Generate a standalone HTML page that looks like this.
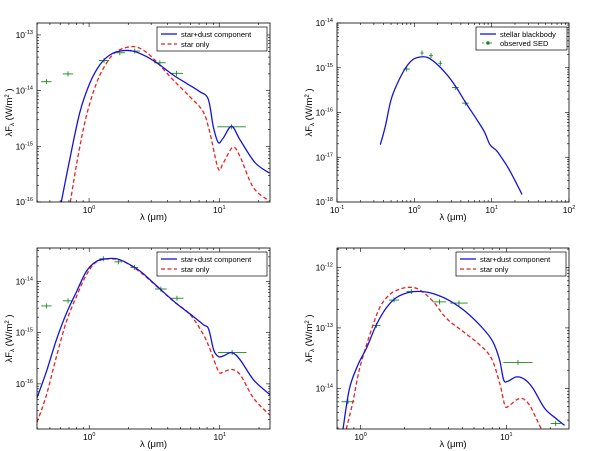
<!DOCTYPE html>
<html><head><meta charset="utf-8"><style>
html,body{margin:0;padding:0;background:#fff;width:600px;height:451px;overflow:hidden}
svg{font-family:"Liberation Sans","DejaVu Sans",sans-serif}
</style></head><body>
<svg id="fig" width="600" height="451" viewBox="0 0 600 451" xmlns="http://www.w3.org/2000/svg"></svg>
<script>
// ---- Panel 1 (top-left) data: log10 wavelength (um), log10 flux (W/m2) ----
const p1BlueLam=[-0.213,-0.149,-0.072,0.005,0.082,0.159,0.236,0.338,0.441,0.544,0.646,0.749,0.851,0.915,0.954,0.992,1.031,1.095,1.159,1.274,1.385];
const p1BlueF=[-16.0,-15.24,-14.40,-13.87,-13.54,-13.36,-13.29,-13.29,-13.39,-13.54,-13.72,-13.87,-14.02,-14.15,-14.64,-14.93,-14.85,-14.64,-14.88,-15.29,-15.48];
const p1RedLam=[-0.144,-0.085,-0.021,0.056,0.133,0.21,0.326,0.415,0.518,0.646,0.774,0.877,0.928,0.992,1.031,1.103,1.159,1.262,1.385];
const p1RedF=[-16.0,-15.18,-14.46,-13.87,-13.51,-13.30,-13.21,-13.27,-13.48,-13.81,-14.11,-14.38,-14.76,-15.40,-15.30,-15.02,-15.18,-15.74,-15.98];
const p1ObsLam=[-0.328,-0.162,0.115,0.236,0.351,0.544,0.672,1.095];
const p1ObsF=[-13.84,-13.70,-13.46,-13.32,-13.29,-13.50,-13.69,-14.65];
const p1ObsXerr=[0.04,0.04,0.04,0.04,0.04,0.045,0.05,0.11];
// ---- Panel 2 (top-right) ----
const p2BlueLam=[-0.44,-0.375,-0.302,-0.216,-0.116,-0.022,0.073,0.172,0.28,0.41,0.539,0.668,0.797,0.905,0.978,1.056,1.121,1.228,1.392];
const p2BlueF=[-16.72,-16.31,-15.72,-15.34,-15.01,-14.82,-14.76,-14.77,-14.90,-15.13,-15.43,-15.79,-16.13,-16.43,-16.72,-16.84,-16.99,-17.28,-17.83];
const p2ObsLam=[-0.099,0.099,0.216,0.336,0.53,0.66];
const p2ObsF=[-15.03,-14.67,-14.73,-14.90,-15.44,-15.79];
const p2ObsXerr=[0.043,0.02,0.025,0.025,0.043,0.043];
// ---- Panel 3 (bottom-left) ----
const p3BlueLam=[-0.4,-0.328,-0.251,-0.174,-0.097,-0.021,0.056,0.133,0.21,0.287,0.39,0.492,0.595,0.697,0.8,0.877,0.915,0.954,0.992,1.031,1.095,1.159,1.262,1.385];
const p3BlueF=[-16.27,-15.76,-15.14,-14.62,-14.20,-13.80,-13.61,-13.56,-13.56,-13.64,-13.80,-14.03,-14.27,-14.49,-14.69,-14.85,-14.93,-15.34,-15.47,-15.45,-15.39,-15.54,-15.93,-16.21];
const p3RedLam=[-0.4,-0.328,-0.251,-0.174,-0.097,-0.021,0.056,0.159,0.262,0.39,0.518,0.646,0.774,0.877,0.928,0.992,1.031,1.095,1.159,1.262,1.385];
const p3RedF=[-16.75,-16.22,-15.47,-14.78,-14.29,-13.87,-13.62,-13.56,-13.61,-13.82,-14.10,-14.39,-14.65,-15.05,-15.34,-15.76,-15.76,-15.72,-15.83,-16.29,-16.61];
const p3ObsLam=[-0.328,-0.162,0.108,0.223,0.346,0.549,0.672,1.095];
const p3ObsF=[-14.48,-14.38,-13.56,-13.62,-13.73,-14.15,-14.33,-15.39];
const p3ObsXerr=[0.04,0.04,0.03,0.03,0.03,0.045,0.05,0.11];
// ---- Panel 4 (bottom-right) ----
const p4BlueLam=[-0.121,-0.076,-0.018,0.039,0.108,0.176,0.245,0.336,0.428,0.519,0.611,0.725,0.84,0.908,0.954,0.982,1.011,1.069,1.126,1.183,1.263,1.343,1.4];
const p4BlueF=[-14.67,-14.0,-13.61,-13.34,-12.95,-12.67,-12.50,-12.41,-12.40,-12.45,-12.55,-12.74,-13.01,-13.23,-13.53,-13.86,-13.88,-13.81,-13.85,-14.0,-14.33,-14.50,-14.61];
const p4RedLam=[-0.098,-0.053,-0.007,0.062,0.13,0.199,0.268,0.336,0.405,0.497,0.588,0.703,0.817,0.897,0.954,0.989,1.011,1.069,1.114,1.16,1.206,1.24];
const p4RedF=[-14.67,-14.22,-13.67,-13.12,-12.67,-12.45,-12.36,-12.33,-12.37,-12.56,-12.84,-13.06,-13.28,-13.50,-13.91,-14.27,-14.30,-14.19,-14.17,-14.28,-14.50,-14.67];
const p4ObsLam=[-0.087,0.108,0.229,0.348,0.542,0.675,1.08,1.339];
const p4ObsF=[-14.22,-12.96,-12.54,-12.40,-12.57,-12.59,-13.57,-14.58];
const p4ObsXerr=[0.045,0.027,0.034,0.034,0.045,0.06,0.1,0.035];

const NS='http://www.w3.org/2000/svg';
const svg=document.getElementById('fig');
function el(tag,attrs,parent){const e=document.createElementNS(NS,tag);for(const k in attrs)e.setAttribute(k,attrs[k]);(parent||svg).appendChild(e);return e;}

const panels=[
 {id:'p1',box:[37,270,23,202],xl:[-0.4,1.39],yl:[-16,-12.786],blue:[p1BlueLam,p1BlueF],red:[p1RedLam,p1RedF],obs:[p1ObsLam,p1ObsF,p1ObsXerr],legend:'sd',xt:[0,1]},
 {id:'p2',box:[337,569,23,202],xl:[-1,2],yl:[-18,-14],blue:[p2BlueLam,p2BlueF],red:null,obs:[p2ObsLam,p2ObsF,p2ObsXerr],legend:'bb',xt:[-1,0,1,2]},
 {id:'p3',box:[37,270,248,429],xl:[-0.4,1.385],yl:[-16.88,-13.35],blue:[p3BlueLam,p3BlueF],red:[p3RedLam,p3RedF],obs:[p3ObsLam,p3ObsF,p3ObsXerr],legend:'sd',xt:[0,1]},
 {id:'p4',box:[337,569,248,429],xl:[-0.162,1.43],yl:[-14.67,-11.68],blue:[p4BlueLam,p4BlueF],red:[p4RedLam,p4RedF],obs:[p4ObsLam,p4ObsF,p4ObsXerr],legend:'sd',xt:[0,1]}
];

function smoothPath(pts){
 let d='M'+pts[0][0].toFixed(1)+','+pts[0][1].toFixed(1);
 for(let i=0;i<pts.length-1;i++){
  const p0=pts[i-1]||pts[i],p1=pts[i],p2=pts[i+1],p3=pts[i+2]||p2;
  const c1x=p1[0]+(p2[0]-p0[0])/6,c1y=p1[1]+(p2[1]-p0[1])/6;
  const c2x=p2[0]-(p3[0]-p1[0])/6,c2y=p2[1]-(p3[1]-p1[1])/6;
  d+='C'+c1x.toFixed(1)+','+c1y.toFixed(1)+' '+c2x.toFixed(1)+','+c2y.toFixed(1)+' '+p2[0].toFixed(1)+','+p2[1].toFixed(1);
 }
 return d;
}

panels.forEach((P,pi)=>{
 const [x0,x1,y0,y1]=P.box;
 const sx=v=>x0+(v-P.xl[0])/(P.xl[1]-P.xl[0])*(x1-x0);
 const sy=v=>y1-(v-P.yl[0])/(P.yl[1]-P.yl[0])*(y1-y0);
 const g=el('g',{});
 
 
 const clip=el('clipPath',{id:'clip'+pi},g);
 el('rect',{x:x0,y:y0,width:x1-x0,height:y1-y0},clip);
 const tg=el('g',{stroke:'#000','stroke-width':0.6},g);
 
 
 for(let d=Math.floor(P.xl[0]);d<=Math.ceil(P.xl[1]);d++){
  for(let m=1;m<10;m++){const v=d+Math.log10(m);if(v<P.xl[0]-1e-6||v>P.xl[1]+1e-6)continue;
   const x=sx(v),L=m==1?4:2;
   el('line',{x1:x,x2:x,y1:y1,y2:y1-L},tg);el('line',{x1:x,x2:x,y1:y0,y2:y0+L},tg);}
 }
 for(let d=Math.floor(P.yl[0]);d<=Math.ceil(P.yl[1]);d++){
  for(let m=1;m<10;m++){const v=d+Math.log10(m);if(v<P.yl[0]-1e-6||v>P.yl[1]+1e-6)continue;
   const y=sy(v),L=m==1?4:2;
   el('line',{x1:x0,x2:x0+L,y1:y,y2:y},tg);el('line',{x1:x1,x2:x1-L,y1:y,y2:y},tg);}
   if(d>=P.yl[0]-1e-6&&d<=P.yl[1]+1e-6){
    const t=el('text',{x:x0-4,y:sy(d)+3,'font-size':8.5,'text-anchor':'end'},g);
    
    
    t.innerHTML='10<tspan dy="-4" font-size="5.5">'+d+'</tspan>';
   }
 }
 P.xt.forEach(d=>{
   if(d<P.xl[0]-1e-6||d>P.xl[1]+1e-6)return;
   const t=el('text',{x:sx(d),y:y1+11,'font-size':8.5,'text-anchor':'middle'},g);
   
   
   t.innerHTML='10<tspan dy="-4" font-size="5.5">'+d+'</tspan>';
 });
 const cg=el('g',{'clip-path':'url(#clip'+pi+')'},g);
 const [ol,of,oe]=P.obs;
 ol.forEach((v,i)=>{
  const pg=el('g',{stroke:'#1a8a1a','stroke-width':0.9,fill:'none'},cg);
  
  
  const x=sx(v),y=sy(of[i]);
  el('line',{x1:sx(v-oe[i]),x2:sx(v+oe[i]),y1:y,y2:y},pg);
  el('line',{x1:x,x2:x,y1:y-2.5,y2:y+2.5},pg);
 });
 const path=(L,F)=>smoothPath(L.map((v,i)=>[sx(v),sy(F[i])]));
 if(P.red){const r=el('path',{d:path(P.red[0],P.red[1]),stroke:'#e8221e','stroke-width':1.3,fill:'none','stroke-dasharray':'4,2.5'},cg);
  
  }
 const b=el('path',{d:path(P.blue[0],P.blue[1]),stroke:'#1414d8','stroke-width':1.3,fill:'none'},cg);
 
 
 const fr=el('rect',{x:x0,y:y0,width:x1-x0,height:y1-y0,fill:'none',stroke:'#000','stroke-width':0.8},g);
 
 
 const xl=el('text',{x:(x0+x1)/2,y:y1+18,'font-size':9.5,'text-anchor':'middle'},g);
 
 
 xl.textContent='λ (μm)';
 const yc=(y0+y1)/2, yx=x0-25;
 const yl=el('text',{x:yx,y:yc,'font-size':9.5,'text-anchor':'middle',transform:'rotate(-90 '+yx+' '+yc+')'},g);
 
 
 yl.innerHTML='λF<tspan dy="2" font-size="6">λ</tspan><tspan dy="-2"> (W/m</tspan><tspan dy="-3" font-size="6">2</tspan><tspan dy="3"> )</tspan>';
 const lg=el('g',{},g);
 
 
 if(P.legend==='sd'){
  const lx=x1-113,ly=y0+4;
  el('rect',{x:lx,y:ly,width:110,height:24,fill:'#fff',stroke:'#000','stroke-width':0.7},lg);
  el('line',{x1:lx+4,x2:lx+20,y1:ly+7,y2:ly+7,stroke:'#1414d8','stroke-width':1.3},lg);
  el('line',{x1:lx+4,x2:lx+20,y1:ly+17,y2:ly+17,stroke:'#e8221e','stroke-width':1.3,'stroke-dasharray':'4,2.5'},lg);
  const t1=el('text',{x:lx+24,y:ly+10,'font-size':7.5},lg);
  
  
  t1.textContent='star+dust component';
  const t2=el('text',{x:lx+24,y:ly+20,'font-size':7.5},lg);
  
  
  t2.textContent='star only';
 } else {
  const lx=x1-93,ly=y0+4;
  el('rect',{x:lx,y:ly,width:91,height:23,fill:'#fff',stroke:'#000','stroke-width':0.7},lg);
  el('line',{x1:lx+4,x2:lx+20,y1:ly+7,y2:ly+7,stroke:'#1414d8','stroke-width':1.3},lg);
  el('line',{x1:lx+6,x2:lx+18,y1:ly+16,y2:ly+16,stroke:'#1a8a1a','stroke-width':0.8,'stroke-dasharray':'2,2'},lg);
  el('circle',{cx:lx+12,cy:ly+16,r:1.8,fill:'#1a8a1a'},lg);
  const t1=el('text',{x:lx+24,y:ly+10,'font-size':7.5},lg);
  
  
  t1.textContent='stellar blackbody';
  const t2=el('text',{x:lx+24,y:ly+19,'font-size':7.5},lg);
  
  
  t2.textContent='observed SED';
 }
});
</script>
</body></html>
